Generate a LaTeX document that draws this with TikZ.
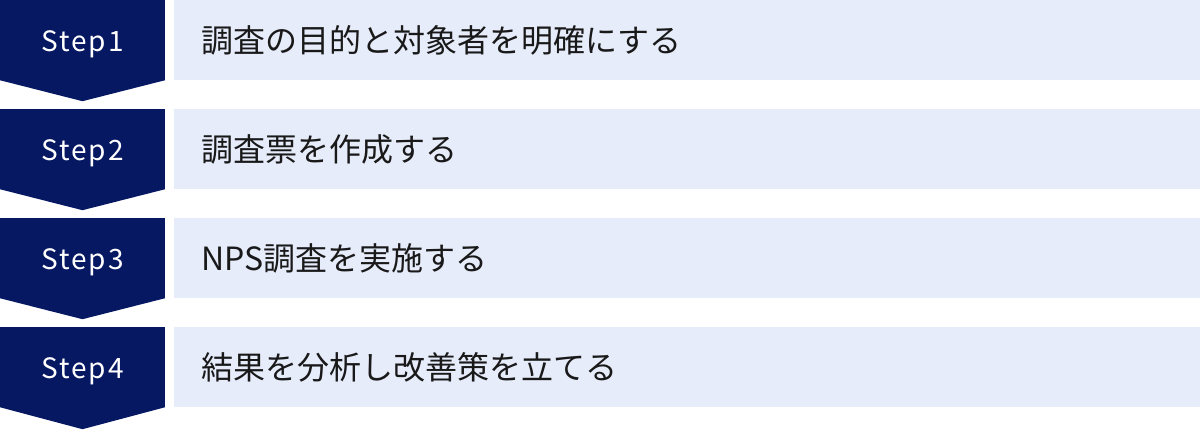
\documentclass[tikz,border=0pt]{standalone}
\usepackage{fontspec}
\setmainfont{Noto Sans CJK JP}
\newfontfamily\stepfont[LetterSpace=7]{Noto Sans CJK JP}
\usetikzlibrary{positioning,calc}
\definecolor{stepnavy}{RGB}{7,24,99}
\definecolor{barblue}{RGB}{230,236,250}

\begin{document}
\begin{tikzpicture}[x=1pt, y=1pt, node distance = 109pt, auto]
    \tikzstyle{stepbox} = [rectangle, fill=stepnavy, text=white, minimum width=165pt, minimum height=80pt, inner sep=0pt, text height=22pt, text depth=0pt, font=\stepfont\fontsize{28pt}{34pt}\selectfont]
    \tikzstyle{bar} = [rectangle, fill=barblue, text=black!90, minimum height=80pt, text width=972pt, inner xsep=27pt, inner ysep=0pt, align=left, font=\fontsize{32pt}{38pt}\selectfont]
    \tikzstyle{tip} = [fill=stepnavy]

    \useasboundingbox (0,0) rectangle (1200,-429);

    \node [stepbox] (step1) at (82.5,-40) {Step1};
    \node [stepbox, below of=step1] (step2) {Step2};
    \node [stepbox, below of=step2] (step3) {Step3};
    \node [stepbox, below of=step3] (step4) {Step4};

    % pointed ends
    \fill [tip] (step1.south west) -- (step1.south east) -- ($(step1.south)+(0,-21)$) -- cycle;
    \fill [tip] (step2.south west) -- (step2.south east) -- ($(step2.south)+(0,-21)$) -- cycle;
    \fill [tip] (step3.south west) -- (step3.south east) -- ($(step3.south)+(0,-21)$) -- cycle;
    \fill [tip] (step4.south west) -- (step4.south east) -- ($(step4.south)+(0,-22)$) -- cycle;

    \node [bar, right=9pt of step1] (purpose) {調査の目的と対象者を明確にする};
    \node [bar, right=9pt of step2] (sheet) {調査票を作成する};
    \node [bar, right=9pt of step3] (survey) {NPS調査を実施する};
    \node [bar, right=9pt of step4] (analysis) {結果を分析し改善策を立てる};
\end{tikzpicture}
\end{document}
